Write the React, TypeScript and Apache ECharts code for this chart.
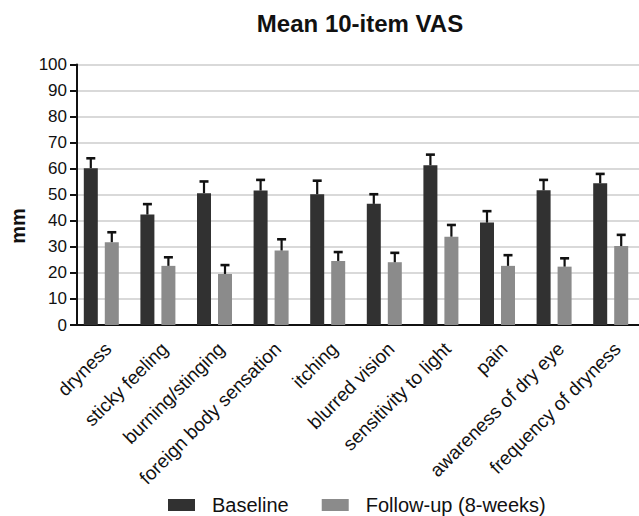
import React, { useEffect, useRef } from "react";
import * as echarts from "echarts";

const categories = [
  "dryness",
  "sticky feeling",
  "burning/stinging",
  "foreign body sensation",
  "itching",
  "blurred vision",
  "sensitivity to light",
  "pain",
  "awareness of dry eye",
  "frequency of dryness",
];
const baselineMean = [60.2, 42.4, 50.6, 51.6, 50.2, 46.5, 61.3, 39.3, 51.7, 54.4];
const baselineErr = [3.8, 4.0, 4.5, 4.1, 5.2, 3.7, 4.1, 4.4, 4.0, 3.6];
const followMean = [31.8, 22.7, 19.6, 28.6, 24.6, 24.1, 33.9, 22.7, 22.4, 30.3];
const followErr = [3.8, 3.3, 3.4, 4.3, 3.4, 3.6, 4.5, 4.1, 3.2, 4.3];
const seriesNames = ["Baseline", "Follow-up (8-weeks)"];
const titleText = "Mean 10-item VAS";
const yAxisTitle = "mm";

const FONT = "'Liberation Sans', Arial, Helvetica, sans-serif";
const DARK = "#313131";
const GREY = "#8b8b8b";
const BAR_W = 14;
const BAR_GAP = 7;

function errorSeries(name: string, means: number[], errs: number[], offset: number) {
  return {
    type: "custom",
    name: name + " error",
    z: 5,
    silent: true,
    data: means.map((m, i) => [i, m, errs[i]]),
    renderItem: (_params: any, api: any) => {
      const idx = api.value(0);
      const m = api.value(1);
      const e = api.value(2);
      const base = api.coord([idx, m]);
      const top = api.coord([idx, m + e]);
      const x = base[0] + offset;
      return {
        type: "group",
        children: [
          {
            type: "line",
            shape: { x1: x, y1: base[1], x2: x, y2: top[1] },
            style: { stroke: "#111", lineWidth: 2.2 },
          },
          {
            type: "line",
            shape: { x1: x - 4.5, y1: top[1], x2: x + 4.5, y2: top[1] },
            style: { stroke: "#111", lineWidth: 2.6 },
          },
        ],
      };
    },
  };
}

export default function App() {
  const ref = useRef<HTMLDivElement>(null);
  useEffect(() => {
    if (!ref.current) return;
    const chart = echarts.init(ref.current, undefined, { renderer: "svg" });
    const half = (BAR_W + BAR_GAP) / 2;
    chart.setOption({
      animation: false,
      backgroundColor: "#ffffff",
      textStyle: { fontFamily: FONT },
      graphic: [
        {
          type: "text",
          x: 360,
          y: 23,
          style: {
            text: titleText,
            font: `bold 24px ${FONT}`,
            fill: "#111",
            align: "center",
            verticalAlign: "middle",
          },
        },
        {
          type: "text",
          x: 18,
          y: 226,
          rotation: Math.PI / 2,
          style: {
            text: yAxisTitle,
            font: `bold 20px ${FONT}`,
            fill: "#111",
            align: "center",
            verticalAlign: "middle",
          },
        },
      ],
      legend: {
        data: seriesNames,
        left: 163,
        top: 490,
        itemWidth: 27,
        itemHeight: 12,
        itemGap: 33,
        icon: "rect",
        textStyle: {
          fontFamily: FONT,
          fontSize: 20,
          color: "#111",
          padding: [0, 0, 0, 12],
        },
      },
      grid: { left: 73, right: -5, top: 64.5, bottom: 191, containLabel: false },
      xAxis: {
        type: "category",
        data: categories,
        axisLine: { lineStyle: { color: "#111", width: 2 } },
        axisTick: { alignWithLabel: true, length: 8, lineStyle: { color: "#111", width: 2 } },
        axisLabel: {
          rotate: 45,
          interval: 0,
          margin: 14,
          align: "right",
          verticalAlign: "top",
          fontFamily: FONT,
          fontSize: 19,
          color: "#111",
        },
      },
      yAxis: {
        type: "value",
        min: 0,
        max: 100,
        interval: 10,
        offset: -4,
        axisLine: { show: true, lineStyle: { color: "#111", width: 2 } },
        axisTick: { show: true, length: 7, lineStyle: { color: "#111", width: 2 } },
        axisLabel: { margin: 10, fontFamily: FONT, fontSize: 17, color: "#111" },
        splitLine: { show: true, lineStyle: { color: "#d9d9d9", width: 2 } },
      },
      series: [
        {
          type: "bar",
          name: seriesNames[0],
          data: baselineMean,
          barWidth: BAR_W,
          barGap: "50%",
          itemStyle: { color: DARK },
        },
        {
          type: "bar",
          name: seriesNames[1],
          data: followMean,
          barWidth: BAR_W,
          barGap: "50%",
          itemStyle: { color: GREY },
        },
        errorSeries(seriesNames[0], baselineMean, baselineErr, -half),
        errorSeries(seriesNames[1], followMean, followErr, half),
      ],
    });
    return () => chart.dispose();
  }, []);
  return (
    <div
      ref={ref}
      style={{ position: "fixed", left: 0, top: 0, width: 639, height: 516 }}
    />
  );
}
